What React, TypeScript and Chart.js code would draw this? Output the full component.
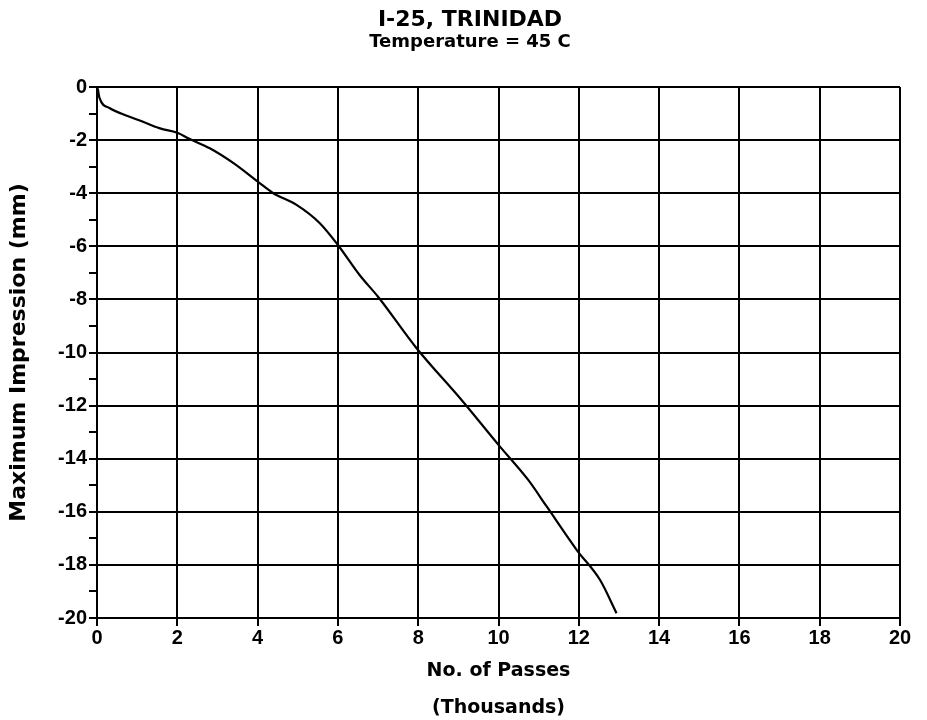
import React, { useEffect, useRef } from "react";
import { Chart, registerables } from "chart.js";

Chart.register(...registerables);

const TITLE = "I-25, TRINIDAD";
const SUBTITLE = "Temperature = 45 C";
const X_TITLE = ["No. of Passes", "(Thousands)"];
const Y_TITLE = "Maximum Impression (mm)";

// No. of passes (thousands)
const passes = [
  0.02, 0.06, 0.32, 0.6, 1.03, 1.57, 2.03, 2.27, 2.81, 3.4, 4.06, 4.39, 4.97,
  5.55, 6.0, 6.55, 7.0, 7.96, 9.08, 10.0, 10.74, 11.2, 11.95, 12.53, 12.94,
];
// Maximum impression (mm)
const impression = [
  -0.05, -0.4, -0.8, -1.0, -1.24, -1.56, -1.74, -1.93, -2.31, -2.87, -3.63,
  -4.0, -4.44, -5.13, -5.95, -7.1, -7.9, -9.84, -11.79, -13.48, -14.8, -15.8,
  -17.44, -18.57, -19.82,
];

const X_MIN = 0;
const X_MAX = 20;
const X_STEP = 2;
const Y_MIN = -20;
const Y_MAX = 0;
const Y_STEP = 1;

const FONT = "'DejaVu Sans', sans-serif";
const TICK_FONT = "'Liberation Sans', Arial, sans-serif";

export default function App() {
  const ref = useRef<HTMLCanvasElement>(null);

  useEffect(() => {
    const canvas = ref.current;
    if (!canvas) return;
    const chart = new Chart(canvas, {
      type: "line",
      data: {
        datasets: [
          {
            data: passes.map((x, i) => ({ x, y: impression[i] })),
            borderColor: "#000",
            borderWidth: 2.2,
            pointRadius: 0,
            cubicInterpolationMode: "monotone",
            fill: false,
          },
        ],
      },
      options: {
        animation: false,
        responsive: false,
        maintainAspectRatio: false,
        layout: { padding: { left: 40, right: 27, top: 0, bottom: 0 } },
        plugins: {
          legend: { display: false },
          tooltip: { enabled: false },
          title: {
            display: true,
            text: TITLE,
            color: "#000",
            font: { family: FONT, size: 22, weight: "bold", lineHeight: 1 },
            padding: { top: 9, bottom: 0 },
          },
          subtitle: {
            display: true,
            text: SUBTITLE,
            color: "#000",
            font: { family: FONT, size: 18, weight: "bold", lineHeight: 1 },
            padding: { top: 2, bottom: 36 },
          },
        },
        scales: {
          x: {
            type: "linear",
            min: X_MIN,
            max: X_MAX,
            ticks: {
              stepSize: X_STEP,
              color: "#000",
              font: { family: TICK_FONT, size: 20, weight: "bold" },
              padding: 0,
              maxRotation: 0,
            },
            grid: { color: "#000", lineWidth: 2, tickLength: 8 },
            border: { color: "#000", width: 2 },
            title: {
              display: true,
              text: X_TITLE,
              color: "#000",
              font: { family: FONT, size: 19, weight: "bold", lineHeight: 37 / 19 },
              padding: { top: 0, bottom: -7 },
            },
            afterFit: (s: any) => {
              s.height = 102;
            },
          },
          y: {
            type: "linear",
            min: Y_MIN,
            max: Y_MAX,
            ticks: {
              stepSize: Y_STEP,
              autoSkip: false,
              color: "#000",
              font: { family: TICK_FONT, size: 20, weight: "bold" },
              padding: 2,
              callback: (v: any) =>
                Math.round(Number(v)) % 2 === 0 ? String(Math.round(Number(v))) : "",
            },
            grid: {
              color: (ctx: any) =>
                ctx.tick && Math.round(ctx.tick.value) % 2 === 0 ? "#000" : "rgba(0,0,0,0)",
              tickColor: "#000",
              lineWidth: 2,
              tickLength: 8,
            },
            border: { color: "#000", width: 2 },
            title: {
              display: true,
              text: Y_TITLE,
              color: "#000",
              font: { family: FONT, size: 22, weight: "bold", lineHeight: 1 },
              padding: { top: -32, bottom: 0 },
            },
            afterFit: (s: any) => {
              s.width = 57;
            },
          },
        },
      },
    });
    return () => chart.destroy();
  }, []);

  return (
    <div
      style={{
        position: "fixed",
        left: 0,
        top: 0,
        width: 927,
        height: 720,
        background: "#fff",
      }}
    >
      <canvas ref={ref} width={927} height={720} style={{ width: 927, height: 720 }} />
    </div>
  );
}
